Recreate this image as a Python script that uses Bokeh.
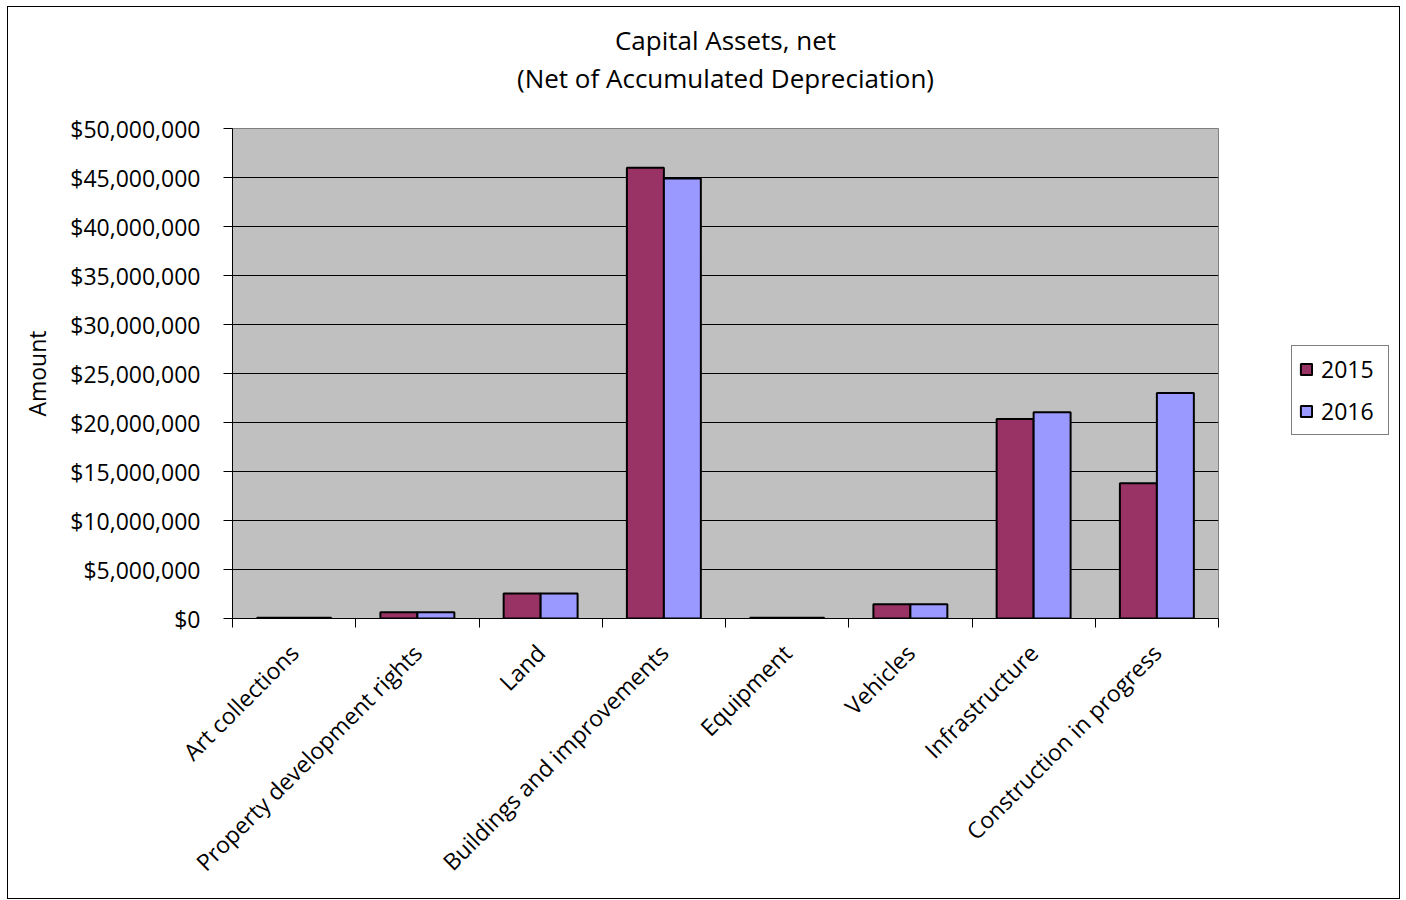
from bokeh.plotting import figure
from bokeh.models import (ColumnDataSource, FactorRange, Range1d, LinearAxis,
                          FixedTicker, NumeralTickFormatter, Legend, LegendItem, Title)
from bokeh.transform import dodge
from bokeh.embed import file_html
from bokeh.resources import INLINE
import math

categories = ["Art collections", "Property development rights", "Land",
              "Buildings and improvements", "Equipment", "Vehicles",
              "Infrastructure", "Construction in progress"]
values_2015 = [80000, 650000, 2550000, 46000000, 80000, 1450000, 20350000, 13800000]
values_2016 = [80000, 650000, 2550000, 44900000, 80000, 1450000, 21050000, 23000000]
series = ["2015", "2016"]
y_ticks = [0, 5000000, 10000000, 15000000, 20000000, 25000000, 30000000,
           35000000, 40000000, 45000000, 50000000]
title_lines = ["Capital Assets, net", "(Net of Accumulated Depreciation)"]

FONT = "Open Sans"
source = ColumnDataSource(data=dict(cat=categories, v2015=values_2015, v2016=values_2016))

p = figure(x_range=FactorRange(*categories), y_range=Range1d(0, 50000000),
           width=1393, height=894, output_backend="svg", toolbar_location=None,
           x_axis_location=None, y_axis_location="left")
p.frame_width = 986
p.frame_height = 490
p.styles = {"border": "1px solid black", "margin-left": "7px", "margin-top": "6px",
            "max-width": "1393px", "overflow": "hidden", "box-sizing": "border-box"}
p.min_border_left = 224
p.min_border_right = 182
p.min_border_top = 121
p.min_border_bottom = 280
p.background_fill_color = "#C0C0C0"
p.border_fill_color = "white"
p.outline_line_color = "#808080"
p.outline_line_width = 1
p.title.visible = False

# titles (spacer closest to the frame, then second line, then first line)
p.add_layout(Title(text=" ", text_font=FONT, text_font_size="10px", standoff=17), "above")
p.add_layout(Title(text=title_lines[1], align="center", text_font=FONT, text_font_size="26px",
                   text_font_style="normal", text_color="black", standoff=0), "above")
p.add_layout(Title(text=title_lines[0], align="center", text_font=FONT, text_font_size="26px",
                   text_font_style="normal", text_color="black", standoff=0), "above")

r1 = p.vbar(x=dodge("cat", -0.15, range=p.x_range), top="v2015", width=0.3, source=source,
            fill_color="#993366", line_color="black", line_width=2)
r2 = p.vbar(x=dodge("cat", 0.15, range=p.x_range), top="v2016", width=0.3, source=source,
            fill_color="#9999FF", line_color="black", line_width=2)

# y axis
ya = p.yaxis[0]
ya.ticker = FixedTicker(ticks=y_ticks)
ya.formatter = NumeralTickFormatter(format="$0,0")
ya.major_tick_out = 9
ya.major_tick_in = 0
ya.minor_tick_out = 0
ya.minor_tick_in = 0
ya.major_label_standoff = 23
ya.major_label_text_font = FONT
ya.major_label_text_font_size = "23px"
ya.major_label_text_color = "black"
ya.axis_line_color = "black"
ya.major_tick_line_color = "black"
ya.axis_label = "Amount"
ya.axis_label_text_font = FONT
ya.axis_label_text_font_size = "23px"
ya.axis_label_text_font_style = "normal"
ya.axis_label_text_color = "black"
ya.axis_label_standoff = 14

p.ygrid.grid_line_color = "black"
p.ygrid.grid_line_width = 1
p.ygrid.ticker = FixedTicker(ticks=y_ticks)
p.xgrid.visible = False

# x axis on the categorical range's synthetic coordinates:
# labels at category centres, tick marks at category boundaries
n = len(categories)
centres = [i + 0.5 for i in range(n)]
xa = LinearAxis(ticker=FixedTicker(ticks=centres, minor_ticks=list(range(n + 1))))
xa.major_label_overrides = {c: name for c, name in zip(centres, categories)}
xa.major_tick_out = 0
xa.major_tick_in = 0
xa.minor_tick_out = 9
xa.minor_tick_in = 0
xa.minor_tick_line_color = "black"
xa.axis_line_color = "black"
xa.major_label_orientation = math.pi / 4
xa.major_label_text_font = FONT
xa.major_label_text_font_size = "23px"
xa.major_label_text_color = "black"
xa.major_label_standoff = 21
p.add_layout(xa, "below")

legend = Legend(items=[LegendItem(label=series[0], renderers=[r1]),
                       LegendItem(label=series[1], renderers=[r2])],
                location=(73, 183), orientation="vertical")
legend.label_text_font = FONT
legend.label_text_font_size = "23px"
legend.label_text_color = "black"
legend.glyph_width = 14
legend.glyph_height = 14
legend.label_height = 22
legend.label_width = 60
legend.label_standoff = 8
legend.spacing = 10
legend.padding = 7
legend.margin = 0
legend.border_line_color = "black"
legend.border_line_width = 1
legend.background_fill_color = "white"
legend.background_fill_alpha = 1
p.add_layout(legend, "right")

open("out.html", "w").write(file_html(p, INLINE))
